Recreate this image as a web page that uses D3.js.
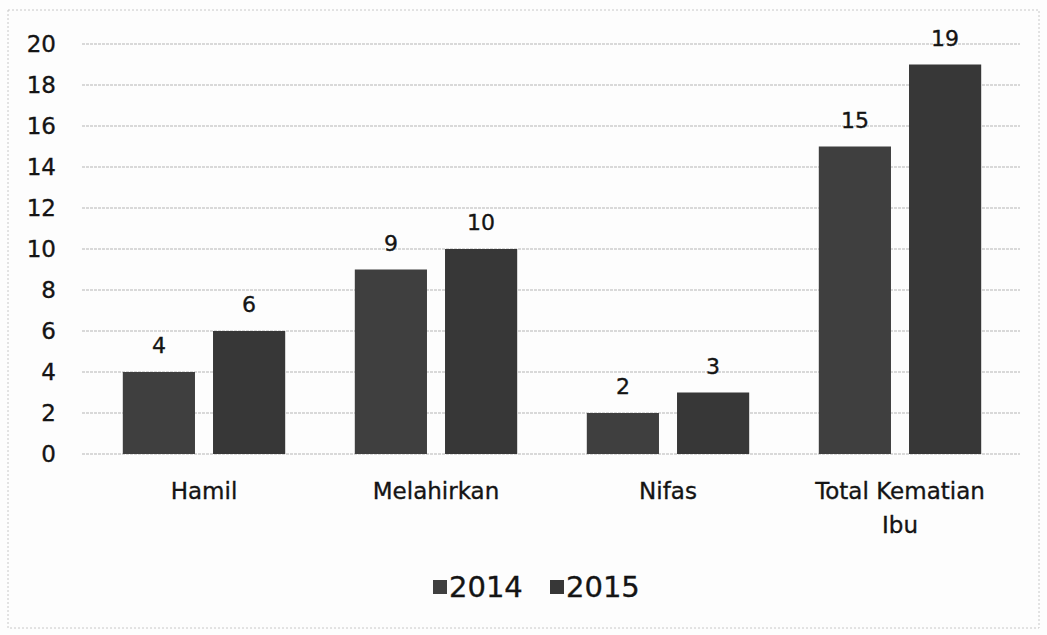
<!DOCTYPE html>
<html>
<head>
<meta charset="utf-8">
<script src="https://d3js.org/d3.v7.min.js"></script>
<style>
  body { margin: 0; background: #fdfdfd; }
  text { font-family: "DejaVu Sans", Verdana, sans-serif; fill: #141414; stroke: #141414; stroke-width: 0.35px; }
</style>
</head>
<body>
<div id="chart"></div>
<script>
// data
var categories = ["Hamil", "Melahirkan", "Nifas", "Total Kematian Ibu"];
var years = ["2014", "2015"];
var values2014 = [4, 9, 2, 15];
var values2015 = [6, 10, 3, 19];
var yTicks = [0, 2, 4, 6, 8, 10, 12, 14, 16, 18, 20];

var svgWidth = 1047;
var svgHeight = 635;

var svg = d3.select("#chart")
  .append("svg")
  .attr("width", svgWidth)
  .attr("height", svgHeight);

// outer frame (faint, like the scanned border)
svg.append("rect")
  .attr("x", 8).attr("y", 10)
  .attr("width", 1031).attr("height", 618)
  .attr("fill", "none")
  .attr("stroke", "#c8c8c8")
  .attr("stroke-dasharray", "2,2");

var rows = categories.map(function(c, i) {
  return { cat: c, vals: [values2014[i], values2015[i]] };
});

// scales
var x0 = d3.scaleBand()
  .domain(categories)
  .range([88, 1016])
  .paddingInner(0.30)
  .paddingOuter(0.15);

var x1 = d3.scaleBand()
  .domain(years)
  .range([0, x0.bandwidth()])
  .paddingInner(0.2);

var y = d3.scaleLinear()
  .domain([0, 20])
  .range([454, 44]);

var colors = d3.scaleOrdinal()
  .domain(years)
  .range(["#3f3f3f", "#373737"]);

// gridlines
svg.append("g")
  .selectAll("line")
  .data(yTicks)
  .enter()
  .append("line")
  .attr("x1", 82)
  .attr("x2", 1020)
  .attr("y1", d => y(d))
  .attr("y2", d => y(d))
  .attr("stroke", "#b5b5b5")
  .attr("stroke-width", 1)
  .attr("stroke-dasharray", "3,1");

// y axis labels
var leftAxis = d3.axisLeft(y).tickValues(yTicks).tickSize(0).tickPadding(0);
var yAxis = svg.append("g")
  .attr("transform", "translate(56,0)")
  .call(leftAxis);
yAxis.select(".domain").remove();
yAxis.selectAll("text")
  .attr("font-size", 23)
  .attr("font-family", "DejaVu Sans")
  .attr("fill", "#141414");

// bars
var groups = svg.append("g")
  .selectAll("g")
  .data(rows)
  .enter()
  .append("g")
  .attr("transform", d => `translate(${x0(d.cat)},0)`);

groups.selectAll("rect")
  .data(d => d.vals.map((v, i) => ({ year: years[i], value: v })))
  .enter()
  .append("rect")
  .attr("x", d => x1(d.year))
  .attr("y", d => y(d.value))
  .attr("width", x1.bandwidth())
  .attr("height", d => y(0) - y(d.value))
  .attr("fill", d => colors(d.year));

// value labels
groups.selectAll("text.val")
  .data(d => d.vals.map((v, i) => ({ year: years[i], value: v })))
  .enter()
  .append("text")
  .attr("class", "val")
  .attr("x", d => x1(d.year) + x1.bandwidth() / 2)
  .attr("y", d => y(d.value) - 19)
  .attr("text-anchor", "middle")
  .attr("font-size", 22)
  .text(d => d.value);

// category labels (wrap the long one)
var catLines = {
  "Hamil": ["Hamil"],
  "Melahirkan": ["Melahirkan"],
  "Nifas": ["Nifas"],
  "Total Kematian Ibu": ["Total Kematian", "Ibu"]
};
var catLabels = svg.append("g")
  .selectAll("text")
  .data(categories)
  .enter()
  .append("text")
  .attr("x", d => x0(d) + x0.bandwidth() / 2)
  .attr("y", 499)
  .attr("text-anchor", "middle")
  .attr("font-size", 23);
catLabels.selectAll("tspan")
  .data(d => catLines[d])
  .enter()
  .append("tspan")
  .attr("x", function() { return d3.select(this.parentNode).attr("x"); })
  .attr("dy", (d, i) => i === 0 ? 0 : 34)
  .text(d => d);

// legend
var legendItems = [
  { year: "2014", x: 433 },
  { year: "2015", x: 550 }
];
var legend = svg.append("g")
  .selectAll("g")
  .data(legendItems)
  .enter()
  .append("g")
  .attr("transform", d => `translate(${d.x},580)`);
legend.append("rect")
  .attr("width", 14)
  .attr("height", 14)
  .attr("fill", d => colors(d.year));
legend.append("text")
  .attr("x", 16)
  .attr("y", 17)
  .attr("font-size", 29)
  .text(d => d.year);
</script>
</body>
</html>
